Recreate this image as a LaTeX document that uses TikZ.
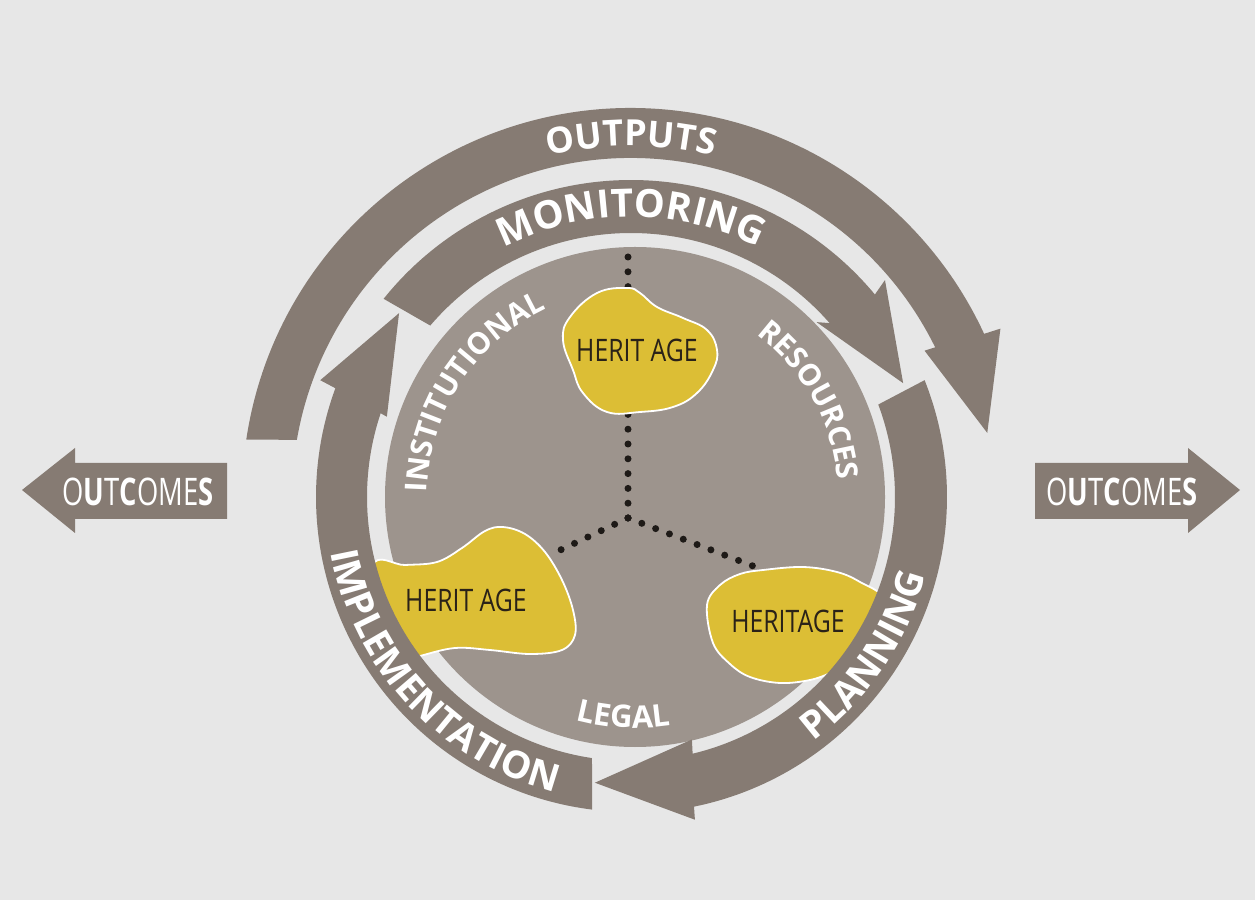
\documentclass[tikz,border=0pt]{standalone}
\usepackage{fontspec}
\setmainfont{Open Sans}
\usetikzlibrary{decorations.text}
\definecolor{bg}{HTML}{E7E7E7}
\definecolor{band}{HTML}{867B73}
\definecolor{disc}{HTML}{9D948D}
\definecolor{blob}{HTML}{DCBE35}
\definecolor{ink}{HTML}{2A2218}
\definecolor{dotc}{HTML}{1E1A17}
\begin{document}
\begin{tikzpicture}[x=1pt,y=1pt,
  bandshape/.style={fill=band, draw=none},
  blobshape/.style={fill=blob, draw=white, line width=1.8pt},
  dotline/.style={draw=dotc, line width=7pt, line cap=round, dash pattern=on 0pt off 14.8pt},
  bloblabel/.style={text=ink, font=\fontsize{31}{31}\selectfont, inner sep=0pt},
  outlabel/.style={text=white, font=\fontsize{38}{38}\selectfont, inner sep=0pt}
]
\useasboundingbox (0,0) rectangle (1255,900);
\fill[bg] (0,0) rectangle (1255,900);

% inner disc
\fill[disc] (635,403) circle (250);

% image-pixel coordinates (y down)
\begin{scope}[yshift=900pt, yscale=-1]
  % dotted connectors
  \coordinate (J) at (628,518);
  \coordinate (Jt) at (628,412);
  \coordinate (Jl) at (552,554);
  \coordinate (Jr) at (766,571);
  \coordinate (Tt) at (628,257);
  \coordinate (Tb) at (628,296);
  \draw[dotline] (J) -- (Jt);
  \draw[dotline] (J) -- (Jl);
  \draw[dotline] (J) -- (Jr);
  \draw[dotline] (Tt) -- (Tb);
  % blobs
  \draw[blobshape] plot[smooth cycle, tension=0.7] coordinates {(583,393) (607,412) (640,412) (673,407) (697,393) (713,370) (717,350) (707,330) (683,318) (657,307) (640,293) (627,288) (597,293) (570,317) (563,340) (573,370)};
  \draw[blobshape] plot[smooth cycle, tension=0.6] coordinates {(372,566) (405,565) (437,562) (462,548) (485,531) (503,527) (525,534) (545,552) (562,580) (573,610) (575,635) (562,650) (530,654) (490,650) (455,648) (420,656) (390,665) (370,650)};
  \draw[blobshape] plot[smooth cycle, tension=0.6] coordinates {(707,605) (720,585) (740,574) (763,570) (803,567) (837,572) (860,582) (885,600) (885,640) (860,660) (833,672) (810,680) (780,683) (750,677) (730,664) (713,643)};
  \node[bloblabel] (h1) at (637,350) {\scalebox{0.8}[1]{HERIT AGE}};
  \node[bloblabel] (h2) at (466,600) {\scalebox{0.8}[1]{HERIT AGE}};
  \node[bloblabel] (h3) at (788,621) {\scalebox{0.8}[1]{HERITAGE}};
  % OUTCOMES arrows
  \fill[band] (227,463) -- (75,463) -- (75,448) -- (22,490) -- (75,533) -- (75,519) -- (227,519) -- cycle;
  \fill[band] (1035,463) -- (1188,463) -- (1188,448) -- (1240,490) -- (1188,533) -- (1188,519) -- (1035,519) -- cycle;
  \node[outlabel] (oL) at (138,492) {\scalebox{0.72}[1]{O\textbf{U}T\textbf{C}OME\textbf{S}}};
  \node[outlabel] (oR) at (1122,492) {\scalebox{0.72}[1]{O\textbf{U}T\textbf{C}OME\textbf{S}}};
\end{scope}

% ring arrows, centred on the cycle centre
\begin{scope}[shift={(631,403)}]
  % OUTPUTS
  \fill[band] (171.5:389) arc[start angle=171.5, end angle=24.8, radius=389] -- (24.5:406) -- (10.2:362) -- (26.5:328) -- (26.2:339) arc[start angle=26.2, end angle=170.3, radius=339] -- cycle;
  % MONITORING
  \fill[band] (141.3:317) arc[start angle=141.3, end angle=39.7, radius=317] -- (40.5:334) -- (22.7:295) -- (43.3:255) -- (41.2:264) arc[start angle=41.2, end angle=139.5, radius=264] -- cycle;
  % IMPLEMENTATION
  \fill[band] (262.9:315) arc[start angle=262.9, end angle=159.8, radius=315] -- (159.4:332) -- (141.6:296) -- (161.8:257) -- (161.5:264) arc[start angle=161.5, end angle=261.5, radius=264] -- cycle;
  % PLANNING
  \fill[band] (21.7:316) arc[start angle=21.7, end angle=-78.5, radius=316] -- (-78.8:329) -- (-97.2:288) -- (-75.9:250) -- (-76.5:264) arc[start angle=-76.5, end angle=20.5, radius=264] -- cycle;

  % curved labels on the arrows
  \path[decorate, decoration={text along path, text align=center, text color=white,
    text={|\bfseries\fontsize{36}{36}\selectfont|OUTPUTS}}]
    (140:351) arc[start angle=140, end angle=40, radius=351];
  \path[decorate, decoration={text along path, text align=center, text color=white,
    text={|\bfseries\fontsize{39}{39}\selectfont|MONITORING}}]
    (150:280) arc[start angle=150, end angle=30, radius=280];
  \path[decorate, decoration={text along path, text align=center, text color=white,
    text={|\bfseries\fontsize{38}{38}\selectfont|IMPLEMENTATION}}]
    (178:305) arc[start angle=178, end angle=268, radius=305];
  \path[decorate, decoration={text along path, text align=center, text color=white,
    text={|\bfseries\fontsize{38}{38}\selectfont|PLANNING}}]
    (-80:305) arc[start angle=-80, end angle=12, radius=305];
\end{scope}

% labels inside the disc
\begin{scope}[shift={(635,403)}]
  \path[decorate, decoration={text along path, text align=center, text color=white,
    text={|\bfseries\fontsize{30}{30}\selectfont|INSTITUTIONAL}}]
    (195:208) arc[start angle=195, end angle=99, radius=208];
  \path[decorate, decoration={text along path, text align=center, text color=white,
    text={|\bfseries\fontsize{30}{30}\selectfont|RESOURCES}}]
    (75:203) arc[start angle=75, end angle=-17, radius=203];
  \path[decorate, decoration={text along path, text align=center, text color=white,
    text={|\bfseries\fontsize{31}{31}\selectfont|LEGAL}}]
    (235:231) arc[start angle=235, end angle=299, radius=231];
\end{scope}
\end{tikzpicture}
\end{document}
